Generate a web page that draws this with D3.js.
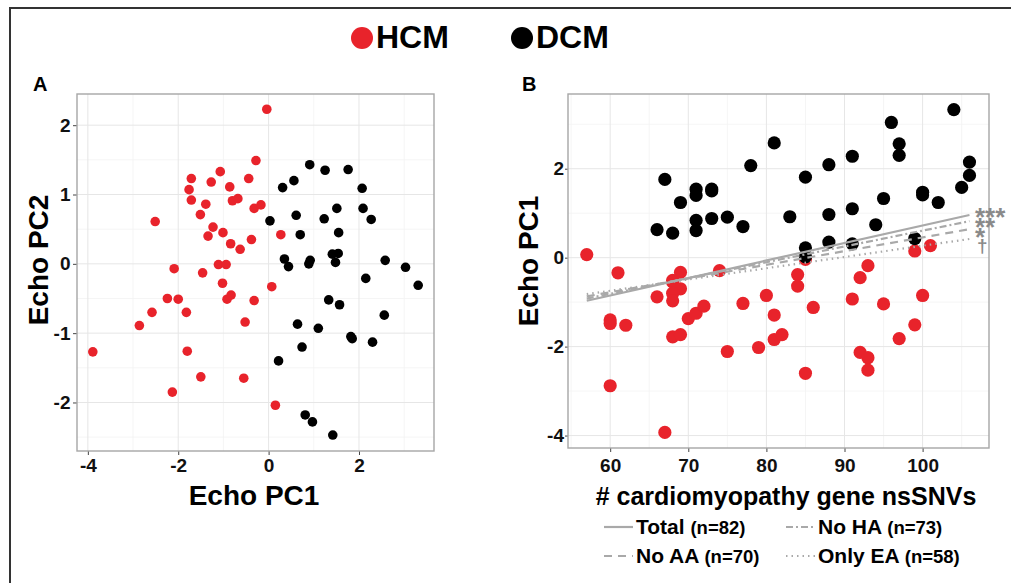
<!DOCTYPE html>
<html>
<head>
<meta charset="utf-8">
<script src="https://cdn.jsdelivr.net/npm/d3@7"></script>
<style>
  body { margin: 0; background: #fff; }
  text { font-family: "Liberation Sans", Arial, sans-serif; font-weight: bold; }
</style>
</head>
<body>
<div id="chart"></div>
<script>
// ---- data ----
const groups = ["HCM", "DCM"];

// panel A: Echo PC1 vs Echo PC2
const hcmA = [[-0.04,2.23],[-0.28,1.49],[-1.71,1.23],[-1.07,1.33],[-1.27,1.18],[-0.44,1.23],[-1.76,1.07],[-0.86,1.11],
  [-1.71,0.92],[-0.80,0.91],[-0.68,0.94],[-1.39,0.86],[-0.32,0.80],[-0.17,0.85],[-1.51,0.71],[-2.51,0.61],[-1.23,0.53],
  [-1.34,0.40],[-1.01,0.45],[0.27,0.42],[-0.38,0.35],[-0.84,0.29],[-0.63,0.21],[-1.11,-0.01],[-0.94,-0.01],[-2.09,-0.07],
  [-1.46,-0.13],[-1.02,-0.28],[0.07,-0.33],[-2.24,-0.50],[-2.00,-0.51],[-0.92,-0.51],[-0.83,-0.45],[-0.32,-0.53],
  [-2.58,-0.70],[-1.82,-0.70],[-0.52,-0.84],[-2.86,-0.89],[-3.89,-1.27],[-1.80,-1.26],[-1.50,-1.63],[-0.55,-1.65],
  [-2.13,-1.85],[0.15,-2.04]];
const dcmA = [[0.91,1.43],[1.25,1.35],[1.76,1.36],[0.56,1.20],[0.31,1.10],[2.07,1.09],[1.51,0.80],[2.09,0.80],[0.61,0.70],
  [1.23,0.65],[2.27,0.64],[0.03,0.62],[0.70,0.42],[1.55,0.45],[1.41,0.14],[1.54,0.15],[0.35,0.07],[0.44,-0.04],[0.92,0.05],
  [0.89,0.00],[1.48,0.02],[2.58,0.05],[3.03,-0.05],[2.15,-0.21],[3.31,-0.31],[1.33,-0.52],[1.57,-0.59],[2.56,-0.74],
  [0.64,-0.87],[1.10,-0.93],[1.82,-1.05],[1.85,-1.08],[2.30,-1.13],[0.74,-1.20],[0.22,-1.40],[0.81,-2.18],[0.97,-2.28],
  [1.42,-2.47]];

// panel B: number of cardiomyopathy gene nsSNVs vs Echo PC1
const hcmB = [[57,0.07],[61,-0.34],[74,-0.29],[69,-0.33],[68,-0.51],[68,-0.55],[69,-0.70],[68,-0.80],[66,-0.88],[68,-0.97],
  [84,-0.38],[84,-0.64],[93,-0.18],[92,-0.45],[99,0.15],[101,0.27],[85,-0.04],[60,-1.40],[60,-1.48],[62,-1.52],[70,-1.37],
  [71,-1.25],[72,-1.09],[77,-1.03],[80,-0.85],[81,-1.29],[86,-1.12],[91,-0.93],[95,-1.04],[100,-0.85],[68,-1.78],[69,-1.73],
  [81,-1.84],[82,-1.73],[97,-1.82],[99,-1.51],[75,-2.11],[79,-2.02],[92,-2.13],[93,-2.25],[93,-2.53],[85,-2.60],[60,-2.88],
  [67,-3.93]];
const dcmB = [[104,3.33],[96,3.04],[81,2.58],[97,2.56],[97,2.30],[91,2.28],[78,2.07],[88,2.09],[106,2.15],[106,1.85],
  [67,1.76],[85,1.81],[105,1.58],[71,1.54],[73,1.54],[73,1.50],[71,1.40],[100,1.47],[100,1.41],[95,1.33],[69,1.24],
  [102,1.24],[91,1.10],[88,0.97],[83,0.92],[75,0.91],[73,0.88],[71,0.84],[94,0.74],[77,0.70],[66,0.63],[68,0.55],
  [71,0.61],[99,0.43],[88,0.35],[91,0.31],[85,0.22],[85,0.02]];

// regression fits in panel B
const fitNames = ["Total", "No HA", "No AA", "Only EA"];
const fitN = [82, 73, 70, 58];
const fitStart = [[57,-0.97],[57,-0.92],[57,-0.87],[57,-0.82]];
const fitEnd = [[106,0.96],[106,0.82],[106,0.64],[106,0.42]];
const fitSig = ["***", "**", "*", "\u2020"];

const xTicksA = [-4, -2, 0, 2], yTicksA = [-2, -1, 0, 1, 2];
const xTicksB = [60, 70, 80, 90, 100], yTicksB = [-4, -2, 0, 2];

// ---- drawing ----
const W = 1011, H = 583;
const red = "#e8232b";
const svg = d3.select("#chart").append("svg").attr("width", W).attr("height", H);

// outer frame (left + top only visible)
svg.append("path").attr("d", `M10,${H} V8 H${W}`)
  .attr("fill", "none").attr("stroke", "#333").attr("stroke-width", 2);

// top legend
const legX = [362, 522];
groups.forEach((g, i) => {
  svg.append("circle").attr("cx", legX[i]).attr("cy", 38).attr("r", 11)
    .attr("fill", i === 0 ? red : "#000");
  svg.append("text").attr("x", legX[i] + 14).attr("y", 48)
    .style("font-size", "32px").text(g);
});

const fmt = d => String(d);

function panel(x, y, xt, yt, xPad, yTick, yPad) {
  const g = svg.append("g");
  const [x0, x1] = x.range(), [y0, y1] = y.range();
  const step = v => v[1] - v[0];
  const minor = (t, dom) => {
    const s = step(t) / 2, out = [];
    for (let v = t[0] - s; v <= dom[1]; v += step(t)) if (v >= dom[0]) out.push(v);
    return out;
  };
  // minor grid
  g.selectAll(".mx").data(minor(xt, x.domain())).join("line")
    .attr("x1", d => x(d)).attr("x2", d => x(d)).attr("y1", y0).attr("y2", y1)
    .attr("stroke", "#f3f3f3").attr("stroke-width", 0.8);
  g.selectAll(".my").data(minor(yt, y.domain())).join("line")
    .attr("y1", d => y(d)).attr("y2", d => y(d)).attr("x1", x0).attr("x2", x1)
    .attr("stroke", "#f3f3f3").attr("stroke-width", 0.8);
  // major grid
  g.selectAll(".gx").data(xt).join("line")
    .attr("x1", d => x(d)).attr("x2", d => x(d)).attr("y1", y0).attr("y2", y1)
    .attr("stroke", "#e6e6e6").attr("stroke-width", 1);
  g.selectAll(".gy").data(yt).join("line")
    .attr("y1", d => y(d)).attr("y2", d => y(d)).attr("x1", x0).attr("x2", x1)
    .attr("stroke", "#e6e6e6").attr("stroke-width", 1);

  // axes
  const ax = svg.append("g").attr("transform", `translate(0,${y0})`)
    .call(d3.axisBottom(x).tickValues(xt).tickFormat(fmt).tickSize(4).tickPadding(xPad).tickSizeOuter(0));
  const ay = svg.append("g").attr("transform", `translate(${x0},0)`)
    .call(d3.axisLeft(y).tickValues(yt).tickFormat(fmt).tickSize(yTick).tickPadding(yPad).tickSizeOuter(0));
  [ax, ay].forEach(a => {
    a.select(".domain").remove();
    a.selectAll(".tick line").attr("stroke", "#444");
    a.selectAll("text").attr("fill", "#111").style("font-size", "19px")
      .style("font-family", '"Liberation Sans", Arial, sans-serif').style("font-weight", "bold");
  });
  return g;
}

function border(x, y) {
  const [x0, x1] = x.range(), [y0, y1] = y.range();
  svg.append("rect").attr("x", x0).attr("y", y1).attr("width", x1 - x0).attr("height", y0 - y1)
    .attr("fill", "none").attr("stroke", "#a6a6a6").attr("stroke-width", 1.4);
}

// panel A
const xA = d3.scaleLinear().domain([-4.24, 3.66]).range([77, 434]);
const yA = d3.scaleLinear().domain([-2.70, 2.45]).range([451, 94]);
const gA = panel(xA, yA, xTicksA, yTicksA, 4, 4, 2.5);
gA.selectAll(".ha").data(hcmA).join("circle")
  .attr("cx", d => xA(d[0])).attr("cy", d => yA(d[1])).attr("r", 4.8).attr("fill", red);
gA.selectAll(".da").data(dcmA).join("circle")
  .attr("cx", d => xA(d[0])).attr("cy", d => yA(d[1])).attr("r", 4.8).attr("fill", "#000");
border(xA, yA);

// panel B
const xB = d3.scaleLinear().domain([54.6, 108.5]).range([568, 989]);
const yB = d3.scaleLinear().domain([-4.28, 3.68]).range([448, 94]);
const gB = panel(xB, yB, xTicksB, yTicksB, 7, 3, 1);
gB.selectAll(".hb").data(hcmB).join("circle")
  .attr("cx", d => xB(d[0])).attr("cy", d => yB(d[1])).attr("r", 6.6).attr("fill", red);
gB.selectAll(".db").data(dcmB).join("circle")
  .attr("cx", d => xB(d[0])).attr("cy", d => yB(d[1])).attr("r", 6.6).attr("fill", "#000");

const dashes = [null, "7,3,2,3", "8,6", "1.5,4"];
const lineGray = "#a9a9a9";
gB.selectAll(".fit").data(fitNames).join("line")
  .attr("x1", (d, i) => xB(fitStart[i][0])).attr("y1", (d, i) => yB(fitStart[i][1]))
  .attr("x2", (d, i) => xB(fitEnd[i][0])).attr("y2", (d, i) => yB(fitEnd[i][1]))
  .attr("stroke", lineGray).attr("stroke-width", 2.2)
  .attr("stroke-dasharray", (d, i) => dashes[i]);
border(xB, yB);

// significance marks at line ends, stacked in one text block
const sigBase = [225.5, 235.5, 245.5, 251.5];
const sig = svg.append("text").attr("fill", "#8a8a8a");
sig.selectAll("tspan").data(fitSig).join("tspan")
  .attr("x", (d, i) => i === 3 ? 977 : 975).attr("y", (d, i) => sigBase[i])
  .style("font-size", (d, i) => i === 3 ? "19px" : "26px")
  .text(d => d);

// panel letters and axis titles
svg.append("text").attr("x", 33).attr("y", 91).style("font-size", "20px").text("A");
svg.append("text").attr("x", 522).attr("y", 91).style("font-size", "20px").text("B");

svg.append("text").attr("x", 254).attr("y", 505).attr("text-anchor", "middle")
  .style("font-size", "28px").text("Echo PC1");
svg.append("text").attr("transform", "translate(48,260) rotate(-90)").attr("text-anchor", "middle")
  .style("font-size", "28px").text("Echo PC2");
svg.append("text").attr("transform", "translate(538,261) rotate(-90)").attr("text-anchor", "middle")
  .style("font-size", "28px").text("Echo PC1");
svg.append("text").attr("x", 786).attr("y", 505).attr("text-anchor", "middle")
  .style("font-size", "25px").text("# cardiomyopathy gene nsSNVs");

// bottom legend for fit lines
const legPos = [[604, 527], [786, 527], [604, 556], [786, 556]];
fitNames.forEach((name, i) => {
  const [lx, ly] = legPos[i];
  svg.append("line").attr("x1", lx).attr("x2", lx + 29).attr("y1", ly).attr("y2", ly)
    .attr("stroke", lineGray).attr("stroke-width", 2.2).attr("stroke-dasharray", dashes[i]);
  const t = svg.append("text").attr("x", lx + 32).attr("y", ly + 7).style("font-size", "21px");
  t.append("tspan").text(name + " ");
  t.append("tspan").style("font-size", "18.5px").text(`(n=${fitN[i]})`);
});
</script>
</body>
</html>
